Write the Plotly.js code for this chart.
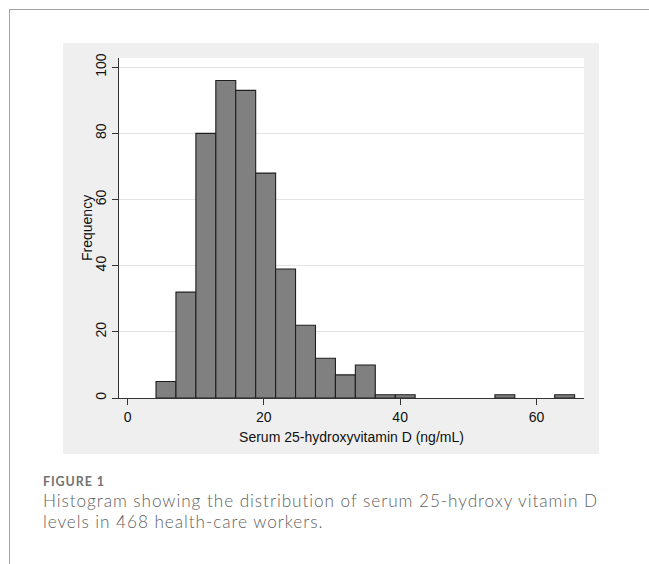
<!DOCTYPE html>
<html>
<head>
<meta charset="utf-8">
<script src="https://cdn.plot.ly/plotly-3.0.1.min.js"></script>
<style>
  html, body { margin: 0; padding: 0; background: #ffffff; width: 649px; height: 564px; overflow: hidden; }
  #frame { position: absolute; left: 9px; top: 9px; width: 660px; height: 600px;
           border-top: 1px solid #a3a3a3; border-left: 1px solid #a3a3a3; }
  #chart { position: absolute; left: 63px; top: 43px; width: 536px; height: 411px; }
  .cap { position: absolute; left: 43px; font-family: Lato, "Open Sans", sans-serif; color: #5f5f5f; white-space: nowrap; line-height: normal; }
  #fig { top: 474.2px; font-size: 12.5px; font-weight: 700; color: #727272; letter-spacing: 0.9px; }
  #l1 { top: 489.6px; font-size: 17.2px; font-weight: 300; letter-spacing: 0.94px; }
  #l2 { top: 510.6px; font-size: 17.2px; font-weight: 300; letter-spacing: 0.94px; }
</style>
</head>
<body>
<div id="frame"></div>
<div id="chart"></div>
<div class="cap" id="fig">FIGURE 1</div>
<div class="cap" id="l1">Histogram showing the distribution of serum 25-hydroxy vitamin D</div>
<div class="cap" id="l2">levels in 468 health-care workers.</div>
<script>
// Histogram bins (ng/mL): first bin lower edge and common bin width
const binStart = 4.18;
const binWidth = 2.925;
// Frequency in each of the 21 bins
const counts = [5, 32, 80, 96, 93, 68, 39, 22, 12, 7, 10, 1, 1, 0, 0, 0, 0, 1, 0, 0, 1];
// Axis ticks
const xTicks = [0, 20, 40, 60];
const yTicks = [0, 20, 40, 60, 80, 100];
const xTitle = "Serum 25-hydroxyvitamin D (ng/mL)";
const yTitle = "Frequency";

const xs = [], ys = [];
counts.forEach((c, i) => {
  if (c > 0) { xs.push(binStart + binWidth * (i + 0.5)); ys.push(c); }
});

const trace = {
  type: "bar",
  x: xs,
  y: ys,
  width: binWidth,
  marker: { color: "#808080", line: { color: "#1e1e1e", width: 1.1 } },
  hoverinfo: "x+y"
};

const font = { family: "Liberation Sans, Arial, sans-serif", size: 14, color: "#111111" };

const layout = {
  width: 536,
  height: 411,
  margin: { l: 56, r: 15, t: 15, b: 56, pad: 0 },
  paper_bgcolor: "#efefef",
  plot_bgcolor: "#ffffff",
  showlegend: false,
  bargap: 0,
  font: font,
  xaxis: {
    range: [-1.25, 66.98],
    tickvals: xTicks,
    ticktext: xTicks.map(String),
    ticks: "outside",
    ticklen: 6,
    tickwidth: 1,
    tickcolor: "#333333",
    showgrid: false,
    zeroline: false,
    showline: true,
    linecolor: "#333333",
    linewidth: 1,
    tickfont: font,
    title: { text: xTitle, font: font, standoff: 8 },
    fixedrange: true
  },
  yaxis: {
    range: [0, 102.8],
    tickvals: yTicks,
    ticktext: yTicks.map(String),
    tickangle: -90,
    ticks: "outside",
    ticklen: 6,
    tickwidth: 1,
    tickcolor: "#333333",
    showgrid: true,
    gridcolor: "#e3e3e3",
    gridwidth: 1,
    zeroline: false,
    showline: true,
    linecolor: "#333333",
    linewidth: 1,
    tickfont: font,
    fixedrange: true
  },
  annotations: [{
    text: yTitle,
    xref: "paper", yref: "paper",
    x: 0, y: 0.5,
    xanchor: "center", yanchor: "middle",
    xshift: -32,
    textangle: -90,
    showarrow: false,
    font: font
  }]
};

Plotly.newPlot("chart", [trace], layout, { displayModeBar: false, staticPlot: true });
</script>
</body>
</html>
